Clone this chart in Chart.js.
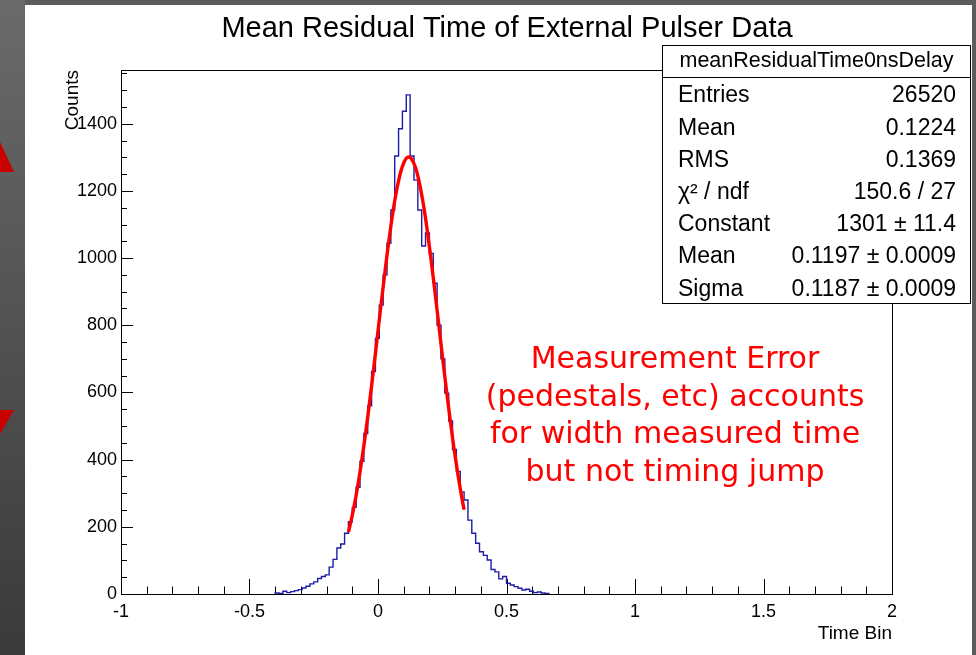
<!DOCTYPE html>
<html>
<head>
<meta charset="utf-8">
<script src="https://cdn.jsdelivr.net/npm/chart.js@4"></script>
<style>
  html, body { margin: 0; padding: 0; background: #5c5c5c; }
  #page { position: relative; width: 976px; height: 655px; overflow: hidden; }
  #strip { position: absolute; left: 0; top: 0; width: 25px; height: 655px;
           background: linear-gradient(#6a6a6a, #3a3a3a); }
  #white { position: absolute; left: 25px; top: 5px; width: 947px; height: 650px; background: #fff; }
  .tri { position: absolute; background: #c80000; }
  #tri1 { left: -6px; top: 142px; width: 20px; height: 30px; clip-path: polygon(30% 0, 100% 100%, 0 100%); }
  #tri2 { left: -6px; top: 410px; width: 20px; height: 24px; clip-path: polygon(0 0, 100% 0, 30% 100%); }
  #wrap { position: absolute; left: 25px; top: 5px; width: 951px; height: 650px; }
</style>
</head>
<body>
<div id="page">
  <div id="strip"></div>
  <div class="tri" id="tri1"></div>
  <div class="tri" id="tri2"></div>
  <div id="white"></div>
  <div id="wrap"><canvas id="chart" width="951" height="650"></canvas></div>
</div>
<script>
// histogram: 0.015 wide bins, first non-empty bin starts at -0.4
const binStart = -0.4;
const binWidth = 0.015;
const counts = [
  3, 2, 8, 4, 7, 10, 13, 18, 23, 30,
  36, 46, 52, 57, 80, 103, 137, 149, 181, 215,
  258, 318, 395, 478, 560, 662, 761, 860, 950, 1044,
  1143, 1304, 1385, 1437, 1486, 1304, 1232, 1143, 1036, 1075,
  1014, 925, 800, 700, 598, 515, 430, 365, 304, 280,
  220, 181, 151, 126, 115, 101, 73, 66, 45, 52,
  32, 27, 22, 17, 12, 14, 8, 4, 6, 3, 2
];

// gaussian fit curve as drawn in red
const fitX = [-0.115, -0.1, -0.085, -0.07, -0.055, -0.04, -0.025, -0.01, 0.005, 0.02,
  0.035, 0.05, 0.065, 0.08, 0.095, 0.11, 0.12, 0.13, 0.145, 0.16,
  0.175, 0.19, 0.205, 0.22, 0.235, 0.25, 0.265, 0.28, 0.295, 0.31, 0.325, 0.335];
const fitY = [184, 235, 294, 363, 441, 526, 619, 716, 816, 914,
  1009, 1095, 1170, 1230, 1273, 1297, 1301, 1296, 1272, 1228,
  1167, 1092, 1005, 910, 812, 712, 615, 523, 437, 360, 292, 251];

const xTicks = [-1, -0.5, 0, 0.5, 1, 1.5, 2];
const yTicks = [0, 200, 400, 600, 800, 1000, 1200, 1400];

const statsTitle = "meanResidualTime0nsDelay";
const statsNames = ["Entries", "Mean", "RMS", "\u03c7\u00b2 / ndf", "Constant", "Mean", "Sigma"];
const statsValues = ["26520", "0.1224", "0.1369", "150.6 / 27", "1301 \u00b1 11.4", "0.1197 \u00b1 0.0009", "0.1187 \u00b1 0.0009"];

const noteLines = ["Measurement Error", "(pedestals, etc) accounts", "for width measured time", "but not timing jump"];

const histPoints = [{ x: binStart, y: 0 }];
counts.forEach((c, i) => histPoints.push({ x: binStart + i * binWidth, y: c }));
histPoints.push({ x: binStart + counts.length * binWidth, y: 0 });

const fitPoints = fitX.map((x, i) => ({ x: x, y: fitY[i] }));

const FONT = "'Liberation Sans', Arial, sans-serif";

// ROOT style frame with inward ticks
const framePlugin = {
  id: "frame",
  beforeDatasetsDraw(chart) {
    const ctx = chart.ctx;
    const a = chart.chartArea;
    const xs = chart.scales.x, ys = chart.scales.y;
    ctx.save();
    ctx.strokeStyle = "#000";
    ctx.lineWidth = 1;
    ctx.strokeRect(Math.round(a.left) + 0.5, Math.round(a.top) + 0.5,
      Math.round(a.right - a.left), Math.round(a.bottom - a.top));
    ctx.beginPath();
    for (let v = -1; v <= 2.0001; v += 0.1) {
      const px = Math.round(xs.getPixelForValue(v)) + 0.5;
      const major = Math.abs(v * 2 - Math.round(v * 2)) < 1e-6;
      ctx.moveTo(px, a.bottom);
      ctx.lineTo(px, a.bottom - (major ? 15 : 7.5));
    }
    for (let v = 0; v <= 1560; v += 50) {
      const py = Math.round(ys.getPixelForValue(v)) + 0.5;
      const major = v % 200 === 0;
      ctx.moveTo(a.left, py);
      ctx.lineTo(a.left + (major ? 12 : 6), py);
    }
    ctx.stroke();
    ctx.restore();
  },
  afterDraw(chart) {
    const ctx = chart.ctx;
    const a = chart.chartArea;
    ctx.save();
    // title
    ctx.fillStyle = "#000";
    ctx.font = "29px " + FONT;
    ctx.textAlign = "center";
    ctx.textBaseline = "alphabetic";
    ctx.fillText("Mean Residual Time of External Pulser Data", 482, 32);

    // axis titles
    ctx.font = "19px " + FONT;
    ctx.textAlign = "right";
    ctx.fillText("Time Bin", a.right, 634);
    ctx.save();
    ctx.translate(53, a.top);
    ctx.rotate(-Math.PI / 2);
    ctx.textAlign = "right";
    ctx.fillText("Counts", 0, 0);
    ctx.restore();

    // stats box
    const bx = 637.5, by = 40.5, bw = 308, bh = 258;
    ctx.fillStyle = "#fff";
    ctx.fillRect(bx, by, bw, bh);
    ctx.strokeStyle = "#000";
    ctx.lineWidth = 1;
    ctx.strokeRect(bx, by, bw, bh);
    ctx.beginPath();
    ctx.moveTo(bx, by + 32);
    ctx.lineTo(bx + bw, by + 32);
    ctx.stroke();
    ctx.fillStyle = "#000";
    ctx.font = "21.5px " + FONT;
    ctx.textAlign = "center";
    ctx.textBaseline = "middle";
    ctx.fillText(statsTitle, bx + bw / 2, by + 16);
    ctx.font = "23px " + FONT;
    statsNames.forEach((n, i) => {
      const y = 91 + i * 32.2;
      ctx.textAlign = "left";
      ctx.fillText(n, 653, y);
      ctx.textAlign = "right";
      ctx.fillText(statsValues[i], 931, y);
    });

    // red annotation
    ctx.fillStyle = "#ff0000";
    ctx.font = "30px 'DejaVu Sans', sans-serif";
    ctx.textAlign = "center";
    ctx.textBaseline = "alphabetic";
    noteLines.forEach((t, i) => ctx.fillText(t, 650, 363 + i * 37.7));
    ctx.restore();
  }
};

new Chart(document.getElementById("chart"), {
  type: "line",
  data: {
    datasets: [
      {
        label: "fit",
        data: fitPoints,
        borderColor: "#ff0000",
        borderWidth: 3.4,
        pointRadius: 0,
        fill: false,
        cubicInterpolationMode: "monotone",
        order: 1
      },
      {
        label: "meanResidualTime0nsDelay",
        data: histPoints,
        borderColor: "#1c1ca8",
        borderWidth: 1.4,
        pointRadius: 0,
        fill: false,
        stepped: "before",
        order: 2
      }
    ]
  },
  options: {
    responsive: false,
    animation: false,
    devicePixelRatio: 1,
    layout: { padding: { left: 0, top: 65, right: 84, bottom: 0 } },
    plugins: { legend: { display: false }, tooltip: { enabled: false } },
    scales: {
      x: {
        type: "linear",
        min: -1,
        max: 2,
        grid: { display: false, drawTicks: false },
        border: { display: false },
        afterBuildTicks(s) { s.ticks = xTicks.map(v => ({ value: v })); },
        afterFit(s) { s.height = 61; },
        ticks: {
          color: "#000",
          padding: 7,
          maxRotation: 0,
          font: { family: FONT, size: 18 },
          callback: v => String(v)
        }
      },
      y: {
        min: 0,
        max: 1560,
        grid: { display: false, drawTicks: false },
        border: { display: false },
        afterBuildTicks(s) { s.ticks = yTicks.map(v => ({ value: v })); },
        afterFit(s) { s.width = 96; },
        ticks: {
          color: "#000",
          padding: 4,
          font: { family: FONT, size: 18 },
          callback: v => String(v)
        }
      }
    }
  },
  plugins: [framePlugin]
});
</script>
</body>
</html>
